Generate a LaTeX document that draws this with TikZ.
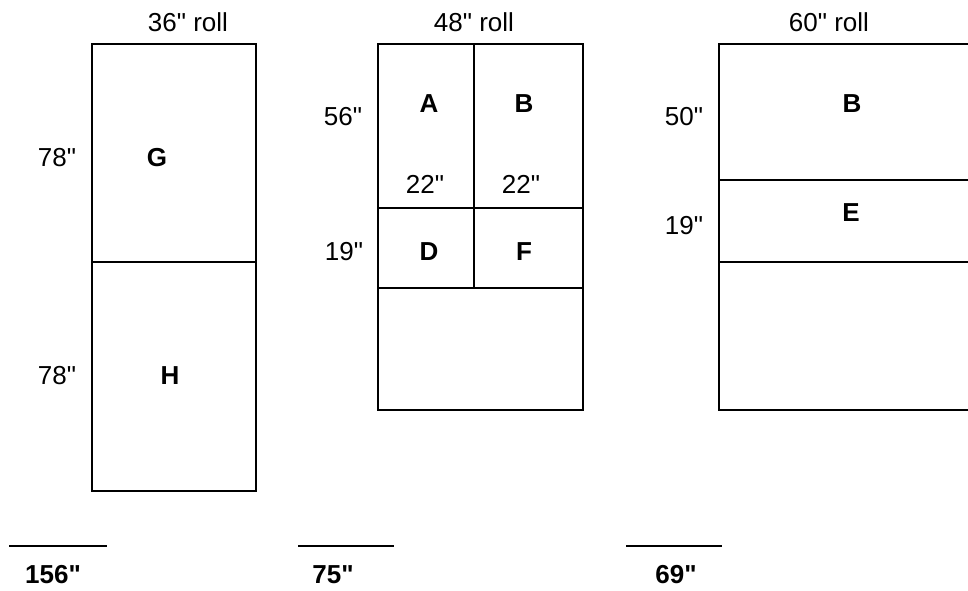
\documentclass[tikz,border=0pt]{standalone}
\usepackage{fontspec}
\newfontfamily\arial{Liberation Sans}
\usetikzlibrary{positioning}
\tikzstyle{dim} = [inner sep=0pt, font=\arial\fontsize{26}{30}\selectfont]
\tikzstyle{piece} = [dim, font=\arial\fontsize{26}{30}\selectfont\bfseries]
\tikzstyle{cut} = [line width=2pt, draw=black]
\tikzstyle{total} = [line width=2pt, draw=black]

\begin{document}
\begin{tikzpicture}[x=1pt, y=-1pt]
\clip (0,0) rectangle (968,590);

% 36" roll
\draw [cut] (92,44) rectangle (256,491);
\draw [cut] (92,262) -- (256,262);
\node (roll1) [dim] at (188,22) {36" roll};
\node (h1G) [dim] at (57,158) {78"};
\node (G) [piece] at (157,158) {G};
\node (h1H) [dim] at (57,376) {78"};
\node (H) [piece] at (170,376) {H};

% 48" roll
\draw [cut] (378,44) rectangle (583,410);
\draw [cut] (378,208) -- (583,208);
\draw [cut] (378,288) -- (583,288);
\draw [cut] (474,44) -- (474,288);
\node (roll2) [dim] at (474,22) {48" roll};
\node (h2A) [dim] at (343,117) {56"};
\node (A) [piece] at (429,104) {A};
\node (B2) [piece] at (524,104) {B};
\node (wA) [dim] at (425,184) {22"};
\node (wB) [dim] at (521,184) {22"};
\node (h2D) [dim] at (344,252) {19"};
\node (D) [piece] at (429,252) {D};
\node (F) [piece] at (524,252) {F};

% 60" roll
\draw [cut] (719,44) rectangle (975,410);
\draw [cut] (719,180) -- (975,180);
\draw [cut] (719,262) -- (975,262);
\node (roll3) [dim] at (829,22) {60" roll};
\node (h3B) [dim] at (684,117) {50"};
\node (B3) [piece] at (852,104) {B};
\node (h3E) [dim] at (684,226) {19"};
\node (E) [piece] at (851,213) {E};

%totals
\draw [total] (9,546) -- (107,546);
\draw [total] (298,546) -- (394,546);
\draw [total] (626,546) -- (722,546);
\node (sum1) [piece] at (53,575) {156"};
\node (sum2) [piece] at (333,575) {75"};
\node (sum3) [piece] at (676,575) {69"};

\end{tikzpicture}
\end{document}
